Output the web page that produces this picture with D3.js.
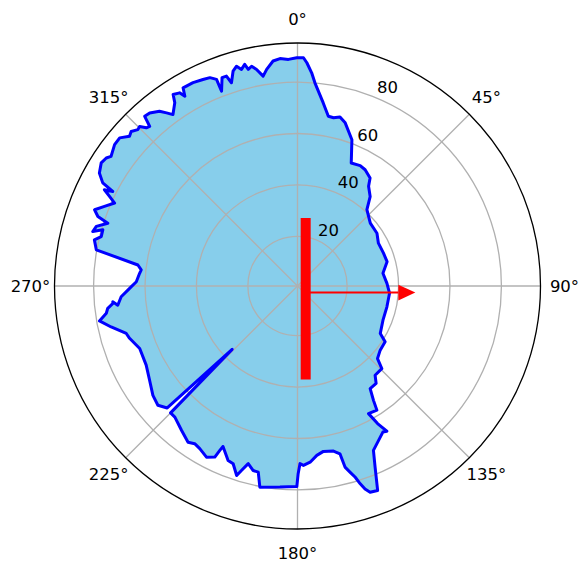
<!DOCTYPE html>
<html>
<head>
<meta charset="utf-8">
<script src="https://cdn.jsdelivr.net/npm/d3@7"></script>
<style>
  body { margin: 0; background: #fff; }
  text { font-family: "DejaVu Sans", sans-serif; font-size: 16.5px; fill: #000; }
</style>
</head>
<body>
<script>
// Polar plot: bearing clockwise from north, radius in data units

// Boundary of the filled region (degrees, radius)
var thetaDeg = [
  359.8, 1.1, 1.5, 2.4, 3.8, 4.9, 8.0, 10.3, 12.1, 14.1, 16.3, 20.4, 23.6, 27.5, 30.2, 33.9,
  35.5, 39.1, 42.3, 49.2, 56.4, 62.1, 69.1, 74.8, 81.5, 88.3, 94.5, 103.1, 111.8, 119.8, 122.5,
  127.8, 132.2, 134.4, 139.0, 141.1, 144.7, 146.4, 147.4, 150.9, 149.8, 148.4, 149.7, 155.2,
  156.8, 158.6, 160.6, 161.6, 162.4, 163.2, 164.2, 165.3, 165.8, 167.7, 171.1, 173.5, 175.9,
  178.1, 179.2, 179.8, 180.2, 185.0, 190.6, 191.9, 193.5, 195.5, 196.9, 197.8, 199.9, 201.7,
  204.9, 205.3, 205.8, 208.0, 211.0, 213.1, 215.0, 218.8, 223.1, 225.0, 225.9, 226.9, 229.5,
  232.9, 237.5, 242.4, 248.4, 252.7, 254.5, 257.6, 260.0, 261.9, 263.3, 264.6, 265.1, 263.9,
  266.5, 269.2, 271.5, 274.6, 275.9, 277.5, 280.2, 282.8, 284.1, 286.1, 284.9, 286.5, 288.3,
  289.2, 290.6, 292.4, 294.4, 295.5, 296.5, 297.1, 297.9, 299.7, 302.1, 303.8, 304.8, 307.7,
  309.8, 311.7, 312.9, 314.4, 315.3, 316.3, 317.2, 318.0, 319.5, 321.7, 322.9, 324.0, 326.2,
  327.0, 328.6, 329.3, 330.0, 332.8, 335.4, 337.2, 338.6, 338.7, 340.1, 341.3, 342.0, 343.3,
  344.5, 345.5, 346.6, 347.2, 348.2, 349.3, 350.7, 351.9, 353.8, 355.6, 357.7
];
var radius = [
  89.5, 89.5, 89.5, 87.6, 83.8, 80.0, 72.6, 67.8, 67.6, 68.5, 66.8, 61.4, 52.9, 53.5, 53.0, 51.3,
  48.3, 45.5, 40.8, 38.1, 37.8, 36.3, 36.5, 36.8, 34.3, 35.5, 36.6, 36.4, 36.5, 37.8, 41.1,
  41.4, 42.7, 46.6, 46.7, 49.4, 49.6, 54.1, 58.0, 57.5, 62.6, 67.0, 66.5, 71.1,
  77.3, 86.1, 85.7, 83.9, 81.4, 78.4, 76.0, 73.5, 68.0, 66.4, 65.8, 67.0, 69.4,
  70.5, 69.8, 73.7, 78.7, 79.2, 80.3, 74.7, 74.5, 72.4, 75.7, 78.1, 74.2, 73.7,
  69.5, 71.4, 74.6, 76.1, 74.5, 73.9, 74.9, 72.7, 70.5, 70.5, 36.1, 70.1, 72.1,
  71.2, 68.9, 67.1, 66.7, 69.1, 69.8, 74.9, 78.9, 75.8, 75.0, 72.8, 72.8, 71.0,
  69.4, 66.0, 63.4, 62.3, 61.8, 63.3, 80.2, 81.7, 79.4, 79.5, 83.1, 82.3, 78.4,
  82.9, 85.0, 81.9, 78.8, 81.7, 84.6, 81.4, 86.4, 89.4, 90.8, 90.2, 89.0, 90.6,
  90.7, 88.2, 89.0, 87.6, 88.0, 85.8, 85.3, 89.5, 89.2, 87.3, 85.1, 83.1, 86.5,
  89.5, 88.7, 86.5, 89.7, 89.6, 89.0, 88.6, 87.0, 82.0, 86.9, 86.9, 83.8, 87.9,
  89.4, 87.7, 89.3, 87.1, 88.0, 86.4, 83.4, 85.8, 88.7, 89.4, 88.9
];

// Thick red bar and red arrow (degrees, radius)
var barTheta = [6.9, 175.0];
var barR = [27.3, 37.2];
var arrowTheta = [145.3, 93.2];
var arrowR = [3.8, 46.6];

// Ticks
var rTicks = [20, 40, 60, 80];
var angleTicks = [0, 45, 90, 135, 180, 225, 270, 315];

// Page dimensions
var width = 582,
  height = 562,
  cx = 297.5,
  cy = 286,
  outer = 243;

var r = d3.scaleLinear().domain([0.7, 95.2]).range([0, outer]);
var a = d3.scaleLinear().domain([0, 360]).range([0, 2 * Math.PI]);

// polar -> screen
function px(t, v) { return r(v) * Math.sin(a(t)); }
function py(t, v) { return -r(v) * Math.cos(a(t)); }

var svg = d3.select("body")
  .append("svg")
  .attr("width", width)
  .attr("height", height);

var g = svg.append("g")
  .attr("transform", "translate(" + cx + "," + cy + ")");

var pts = thetaDeg.map(function(t, i) { return [t, radius[i]]; });

var line = d3.lineRadial()
  .angle(function(d) { return a(d[0]); })
  .radius(function(d) { return r(d[1]); });

// Filled region
g.append("path")
  .attr("d", line(pts) + "Z")
  .attr("fill", "skyblue");

// Grid circles and spokes
g.selectAll(".ring")
  .data(rTicks)
  .enter().append("circle")
  .attr("class", "ring")
  .attr("r", function(d) { return r(d); })
  .attr("fill", "none")
  .attr("stroke", "#b0b0b0")
  .attr("stroke-width", 1.3);

g.selectAll(".spoke")
  .data(angleTicks)
  .enter().append("line")
  .attr("class", "spoke")
  .attr("x1", 0)
  .attr("y1", 0)
  .attr("x2", function(d) { return outer * Math.sin(a(d)); })
  .attr("y2", function(d) { return -outer * Math.cos(a(d)); })
  .attr("stroke", "#b0b0b0")
  .attr("stroke-width", 1.3);

// Outline
g.append("path")
  .attr("d", line(pts) + "Z")
  .attr("fill", "none")
  .attr("stroke", "#0000ff")
  .attr("stroke-width", 3)
  .attr("stroke-linejoin", "round");

// Outer spine
g.append("circle")
  .attr("r", outer)
  .attr("fill", "none")
  .attr("stroke", "#000")
  .attr("stroke-width", 1.3);

// Radial tick labels at 22.5 deg
g.selectAll(".rlabel")
  .data(rTicks)
  .enter().append("text")
  .attr("class", "rlabel")
  .attr("x", function(d) { return px(22.5, d) + 1.5; })
  .attr("y", function(d) { return py(22.5, d) - 4.5; })
  .attr("text-anchor", "start")
  .text(function(d) { return d; });

// Angle labels
g.selectAll(".alabel")
  .data(angleTicks)
  .enter().append("text")
  .attr("class", "alabel")
  .attr("x", function(d) { return (outer + 24) * Math.sin(a(d)); })
  .attr("y", function(d) { return -(outer + 24) * Math.cos(a(d)); })
  .attr("text-anchor", "middle")
  .attr("dominant-baseline", "central")
  .text(function(d) { return d + "°"; });

// Red bar
g.append("line")
  .attr("x1", px(barTheta[0], barR[0]))
  .attr("y1", py(barTheta[0], barR[0]))
  .attr("x2", px(barTheta[1], barR[1]))
  .attr("y2", py(barTheta[1], barR[1]))
  .attr("stroke", "red")
  .attr("stroke-width", 10);

// Red arrow
var x0 = px(arrowTheta[0], arrowR[0]), y0 = py(arrowTheta[0], arrowR[0]),
  x1 = px(arrowTheta[1], arrowR[1]), y1 = py(arrowTheta[1], arrowR[1]);
var ang = Math.atan2(y1 - y0, x1 - x0),
  headLen = 17, headHalf = 7.8;
var bx = x1 - headLen * Math.cos(ang), by = y1 - headLen * Math.sin(ang);

g.append("line")
  .attr("x1", x0)
  .attr("y1", y0)
  .attr("x2", bx)
  .attr("y2", by)
  .attr("stroke", "red")
  .attr("stroke-width", 2);

g.append("path")
  .attr("d", "M" + x1 + "," + y1 +
    "L" + (bx - headHalf * Math.sin(ang)) + "," + (by + headHalf * Math.cos(ang)) +
    "L" + (bx + headHalf * Math.sin(ang)) + "," + (by - headHalf * Math.cos(ang)) + "Z")
  .attr("fill", "red");
</script>
</body>
</html>
